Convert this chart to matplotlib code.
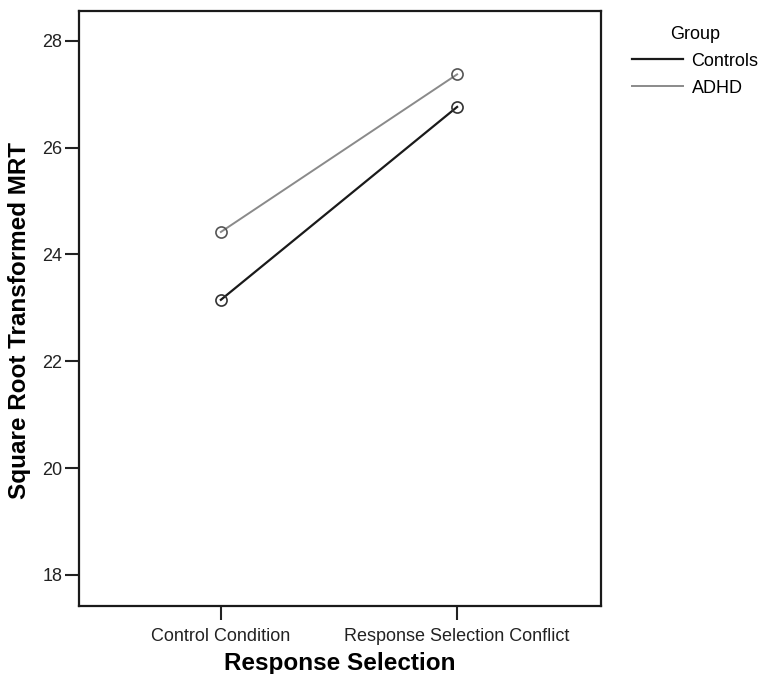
import matplotlib
matplotlib.use("Agg")
import matplotlib.pyplot as plt

# ── data ──
conditions = ["Control Condition", "Response Selection Conflict"]
controls_mrt = [23.15, 26.76]
adhd_mrt = [24.42, 27.37]
y_ticks = [18, 20, 22, 24, 26, 28]

plt.rcParams["font.family"] = ["Liberation Sans", "DejaVu Sans"]

fig = plt.figure(figsize=(7.61, 6.74), dpi=100)
ax = fig.add_axes([0.104, 0.101, 0.686, 0.883])

x = [1, 2]
ax.plot(x, controls_mrt, color="#1a1a1a", lw=1.6, marker="o", ms=8,
        mfc="none", mec="#333333", mew=1.2, label="Controls")
ax.plot(x, adhd_mrt, color="#8a8a8a", lw=1.4, marker="o", ms=8,
        mfc="none", mec="#555555", mew=1.2, label="ADHD")

ax.set_xlim(0.40, 2.61)
ax.set_ylim(17.42, 28.56)
ax.set_xticks(x)
ax.set_xticklabels(conditions)
ax.set_yticks(y_ticks)
ax.tick_params(axis="both", direction="out", length=10, width=1.5,
               labelsize=13, colors="#222222")
ax.tick_params(axis="x", pad=6)
ax.tick_params(axis="y", pad=2)
for sp in ax.spines.values():
    sp.set_linewidth(1.6)
    sp.set_color("#1a1a1a")

ax.set_xlabel("Response Selection", fontsize=17.5, fontweight="bold", labelpad=5)
ax.set_ylabel("Square Root Transformed MRT", fontsize=17.5, fontweight="bold")
ax.yaxis.set_label_coords(-0.092, 0.48)

leg = ax.legend(title="Group", loc="upper left", bbox_to_anchor=(1.059, 0.975),
                frameon=False, fontsize=13, title_fontsize=13, borderpad=0,
                borderaxespad=0, handlelength=2.8, handletextpad=0.5,
                labelspacing=0.55)
for h in leg.legend_handles:
    h.set_marker("")

fig.savefig("out.png", dpi=100)
